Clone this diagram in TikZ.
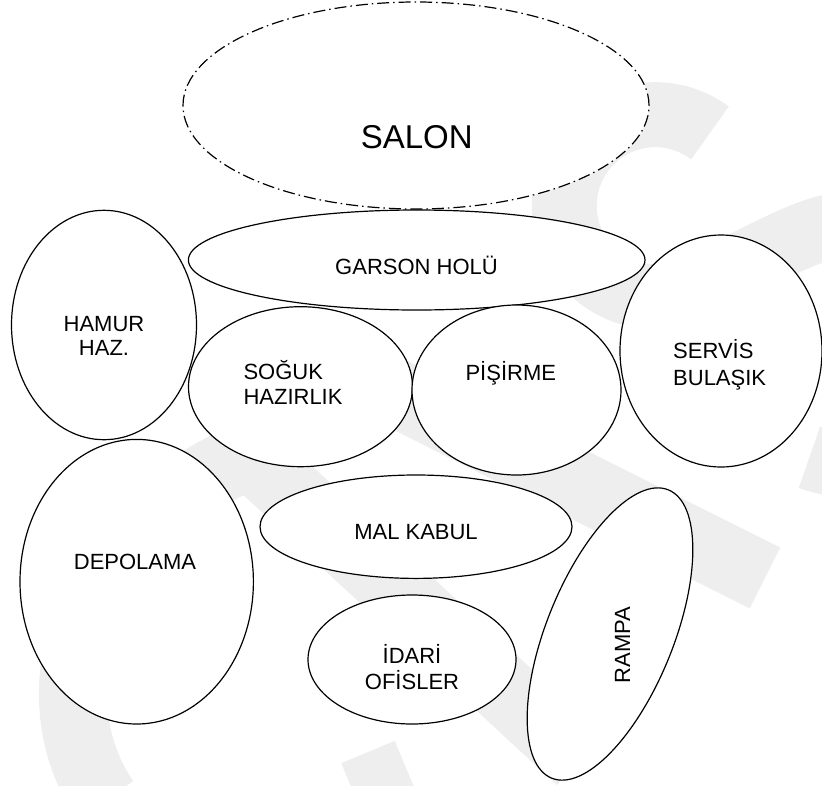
\documentclass[tikz,border=0pt]{standalone}
\usepackage{fontspec}
\setmainfont{Liberation Sans}
\usetikzlibrary{shapes.geometric}
\definecolor{wmgray}{RGB}{238,238,238}

\begin{document}
\begin{tikzpicture}[x=1pt,y=-1pt,
    room/.style={draw=black, ellipse, fill=white, line width=1.2pt},
    salonroom/.style={room, dash pattern=on 12pt off 4pt on 1.5pt off 4pt},
    lbl/.style={font=\fontsize{22}{25}\selectfont},
    wmband/.style={draw=wmgray, line cap=butt, line width=#1}]
    \tikzstyle{every node}+=[inner sep=0pt]
    \useasboundingbox (0,0) rectangle (822,785);
    % faint background marks
    \begin{scope}
    \clip (0,0) rectangle (822,785);
    \draw [wmband=65pt] (710,133) arc (-53:-270:91) .. controls (700,296) and (790,230) .. (840,225) arc (-95:110:120);
    \draw [wmband=68pt] (380,385) -- (765,578);
    \draw [wmband=68pt, line join=round] (105,800) .. controls (30,690) and (90,520) .. (250,455) -- (580,760);
    \draw [wmband=58pt] (368,752) -- (388,800);
    \end{scope}
    % rooms
    \node [salonroom, minimum width=466pt, minimum height=207pt] (salon) at (416,105.5) {};
    \node [room, minimum width=456.6pt, minimum height=100pt] (garson) at (416.7,260) {};
    \node [room, minimum width=185pt, minimum height=229.4pt] (hamur) at (104,325) {};
    \node [room, minimum width=224pt, minimum height=160pt] (soguk) at (300.5,386.7) {};
    \node [room, minimum width=209pt, minimum height=170pt] (pisirme) at (516.5,390) {};
    \node [room, minimum width=202pt, minimum height=232pt] (servis) at (721,351) {};
    \node [room, minimum width=233.4pt, minimum height=284.6pt] (depo) at (136.7,581.7) {};
    \node [room, minimum width=312pt, minimum height=103.4pt] (malkabul) at (416,526.7) {};
    \node [room, minimum width=208pt, minimum height=129pt] (idari) at (412,659.5) {};
    \node [room, minimum width=127pt, minimum height=311pt, rotate=-22] (rampa) at (610,634) {};
    % labels (base = last line)
    \node [anchor=base, font=\fontsize{33}{38}\selectfont] (salon-t) at (416.7,148.3) {SALON};
    \node [lbl, anchor=base] (garson-t) at (416.5,274) {GARSON HOLÜ};
    \node [lbl, anchor=base, align=center, font=\fontsize{22}{23.3}\selectfont] (hamur-t) at (104,355) {HAMUR\\HAZ.};
    \node [lbl, anchor=base west, align=left] (soguk-t) at (243.3,404) {SOĞUK\\HAZIRLIK};
    \node [lbl, anchor=base] (pisirme-t) at (510.8,380.7) {PİŞİRME};
    \node [lbl, anchor=base west, align=left, font=\fontsize{22}{27}\selectfont] (servis-t) at (673,385.5) {SERVİS\\BULAŞIK};
    \node [lbl, anchor=base] (depo-t) at (135,569.3) {DEPOLAMA};
    \node [lbl, anchor=base] (malkabul-t) at (416,539) {MAL KABUL};
    \node [lbl, anchor=base, align=center, font=\fontsize{22}{26}\selectfont] (idari-t) at (412,689.3) {İDARİ\\OFİSLER};
    \node [lbl, anchor=base, rotate=90] (rampa-t) at (630,645) {RAMPA};
\end{tikzpicture}
\end{document}
